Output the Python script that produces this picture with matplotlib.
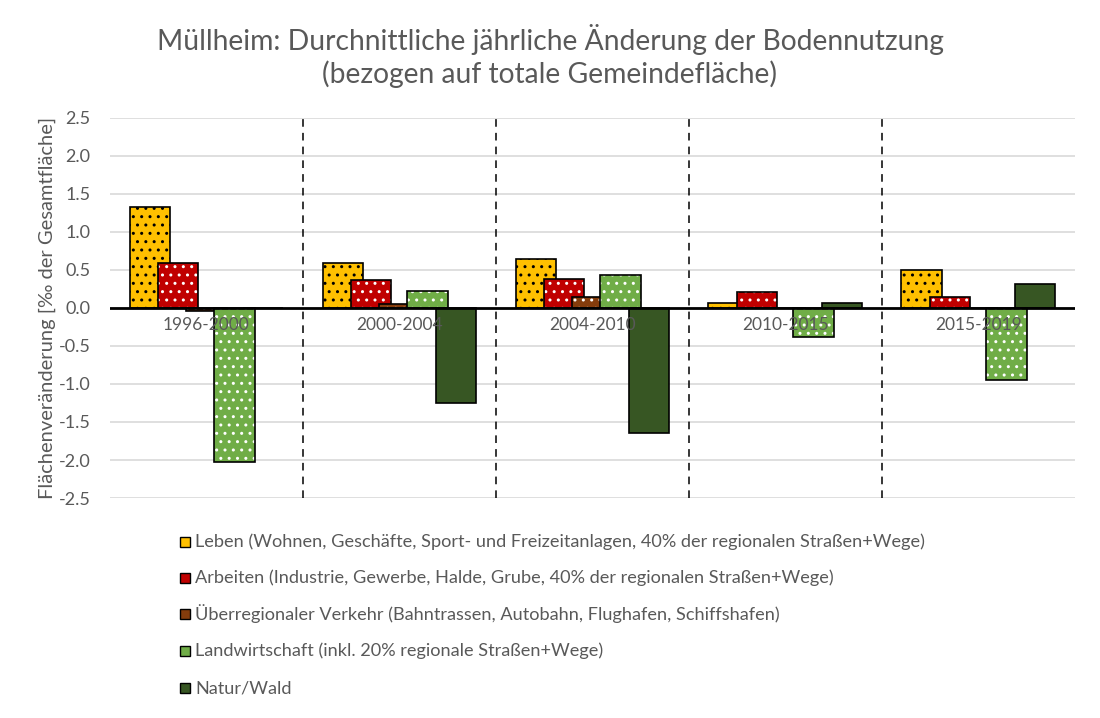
import numpy as np
import matplotlib
matplotlib.use("Agg")
from matplotlib import pyplot as plt
from matplotlib.patches import Rectangle

plt.rcParams['font.family'] = ['Lato', 'DejaVu Sans']
plt.rcParams['hatch.linewidth'] = 1.0

# data
perioden = ["1996-2000", "2000-2004", "2004-2010", "2010-2015", "2015-2019"]
serien = [
    "Leben (Wohnen, Geschäfte, Sport- und Freizeitanlagen, 40% der regionalen Straßen+Wege)",
    "Arbeiten (Industrie, Gewerbe, Halde, Grube, 40% der regionalen Straßen+Wege)",
    "Überregionaler Verkehr (Bahntrassen, Autobahn, Flughafen, Schiffshafen)",
    "Landwirtschaft (inkl. 20% regionale Straßen+Wege)",
    "Natur/Wald",
]
leben = [1.33, 0.59, 0.64, 0.07, 0.50]
arbeiten = [0.59, 0.37, 0.38, 0.21, 0.15]
verkehr = [-0.04, 0.05, 0.14, 0.0, 0.0]
landwirtschaft = [-2.03, 0.22, 0.43, -0.38, -0.95]
natur = [0.0, -1.25, -1.64, 0.07, 0.31]

werte = [leben, arbeiten, verkehr, landwirtschaft, natur]
farben = ["#FFC000", "#C00000", "#843C0C", "#70AD47", "#375623"]
punkte = ["black", "white", "white", "white", None]

grau = "#595959"

fig = plt.figure(figsize=(11, 7.18), dpi=100)
ax = fig.add_axes([0.1, 0.3064, 0.877, 0.5293])

x = np.arange(len(perioden))
step = 0.1466
width = 0.21

for i in range(len(serien)):
    pos = x + (i - 2) * step
    # fill
    ax.bar(pos, werte[i], width, color=farben[i], linewidth=0, zorder=3 + i)
    # dots
    if punkte[i] is not None:
        ax.bar(pos, werte[i], width, color='none', edgecolor=punkte[i],
               hatch='..', linewidth=0, zorder=3 + i)
    # outline
    ax.bar(pos, werte[i], width, color='none', edgecolor='black',
           linewidth=1.2, zorder=3 + i)

ax.axhline(0, color='black', linewidth=2, zorder=10)
for b in x[:-1] + 0.5:
    ax.axvline(b, color='black', linestyle=(0, (5, 4)), linewidth=1.1, zorder=2)

for i, p in enumerate(perioden):
    ax.text(i, -0.12, p, ha='center', va='top', fontsize=12.5, color=grau, zorder=11)

ax.set_xlim(-0.5, 4.5)
ax.set_ylim(-2.5, 2.5)
ax.set_yticks(np.arange(-2.5, 2.51, 0.5))
ax.set_yticklabels([f"{v:.1f}" for v in np.arange(-2.5, 2.51, 0.5)])
ax.set_xticks([])
ax.tick_params(axis='y', length=0, labelsize=13, labelcolor=grau, pad=14)
ax.grid(axis='y', color='#D9D9D9', linewidth=1.2, zorder=0)
ax.set_axisbelow(True)
for s in ax.spines.values():
    s.set_visible(False)

ax.set_ylabel("Flächenveränderung [‰ der Gesamtfläche]", fontsize=14.5, color=grau, labelpad=2)

fig.suptitle("Müllheim: Durchnittliche jährliche Änderung der Bodennutzung\n(bezogen auf totale Gemeindefläche)",
             fontsize=20.3, color=grau, y=0.967, linespacing=1.25)

# legend, one row per series
H = 718
zeilen_y = [542, 578, 614, 651, 688]
for i in range(len(serien)):
    yc = 1 - zeilen_y[i] / H
    fig.patches.append(Rectangle((180 / 1100, yc - 5 / H), 10 / 1100, 10 / H,
                                 facecolor=farben[i], edgecolor='black', linewidth=1,
                                 transform=fig.transFigure, figure=fig))
    fig.text(195 / 1100, yc, serien[i], ha='left', va='center', fontsize=13.1, color=grau)

fig.savefig("out.png", dpi=100)
